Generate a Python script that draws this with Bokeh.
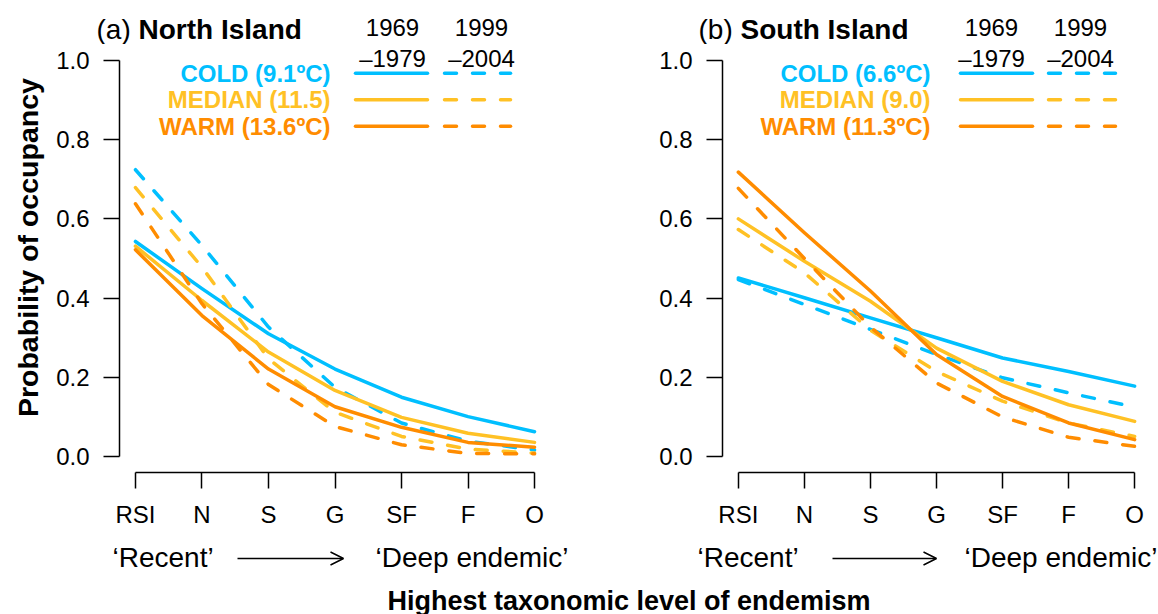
import math
from bokeh.plotting import figure
from bokeh.models import Label, Arrow, OpenHead, FixedTicker, PrintfTickFormatter, Range1d
from bokeh.layouts import column, row
from bokeh.embed import file_html
from bokeh.resources import INLINE

# ---------------- data ----------------
levels = ["RSI", "N", "S", "G", "SF", "F", "O"]
y_ticks = [0.0, 0.2, 0.4, 0.6, 0.8, 1.0]

north_cold_1969 = [0.543, 0.424, 0.310, 0.221, 0.150, 0.101, 0.063]
north_cold_1999 = [0.724, 0.533, 0.327, 0.175, 0.085, 0.039, 0.017]
north_median_1969 = [0.531, 0.394, 0.264, 0.167, 0.099, 0.059, 0.036]
north_median_1999 = [0.679, 0.478, 0.247, 0.112, 0.051, 0.019, 0.009]
north_warm_1969 = [0.522, 0.356, 0.221, 0.126, 0.074, 0.036, 0.024]
north_warm_1999 = [0.638, 0.386, 0.182, 0.076, 0.030, 0.008, 0.007]

south_cold_1969 = [0.451, 0.401, 0.350, 0.300, 0.249, 0.215, 0.178]
south_cold_1999 = [0.447, 0.384, 0.321, 0.258, 0.199, 0.161, 0.125]
south_median_1969 = [0.600, 0.493, 0.392, 0.274, 0.190, 0.131, 0.089]
south_median_1999 = [0.573, 0.464, 0.319, 0.215, 0.140, 0.085, 0.051]
south_warm_1969 = [0.718, 0.565, 0.418, 0.258, 0.152, 0.085, 0.043]
south_warm_1999 = [0.677, 0.500, 0.327, 0.186, 0.100, 0.049, 0.026]

north_legend = ["COLD (9.1\u00baC)", "MEDIAN (11.5)", "WARM (13.6\u00baC)"]
south_legend = ["COLD (6.6\u00baC)", "MEDIAN (9.0)", "WARM (11.3\u00baC)"]
period_top = ["1969", "1999"]
period_bottom = ["\u20131979", "\u20132004"]

colors = ["#00BFFF", "#FFC125", "#FF8C00"]

# ---------------- layout constants (page pixels) ----------------
FONT = "Liberation Sans"
PAGE_W, PAGE_H = 1158, 614
TOP_H = 44            # strip holding titles / first header row
BOT_H = 79            # strip holding 'Recent' rows and the x label
LEFT_W = 45           # strip holding the y label
MID_H = PAGE_H - TOP_H - BOT_H
FRAME_TOP = TOP_H     # page y of the frame top
FRAME_H = 428
XR = (-0.24, 6.24)
YR = (-0.04, 1.04)
DASH = "12 16"
LW = 3.5


def strip(w, h):
    s = figure(width=w, height=h, x_range=Range1d(0, w), y_range=Range1d(0, h),
               min_border=0, x_axis_location=None, y_axis_location=None, title=None,
               output_backend="svg", toolbar_location=None)
    s.outline_line_color = None
    s.grid.visible = False
    s.background_fill_color = "white"
    s.border_fill_color = "white"
    return s


def txt(target, x, y, text, size="24px", style="normal", color="black",
        align="left", baseline="middle", angle=0.0):
    target.add_layout(Label(x=x, y=y, text=text, text_font=FONT, text_font_size=size,
                            text_font_style=style, text_color=color, text_align=align,
                            text_baseline=baseline, angle=angle))


def make_panel(width, page_left, frame_left, frame_w, series, legend_labels, lay):
    def X(px):
        return XR[0] + (px - frame_left) / frame_w * (XR[1] - XR[0])

    def Y(py):
        return YR[1] - (py - FRAME_TOP) / FRAME_H * (YR[1] - YR[0])

    p = figure(width=width, height=MID_H,
               x_range=Range1d(*XR), y_range=Range1d(*YR), title=None,
               output_backend="svg", toolbar_location=None,
               min_border_left=frame_left - page_left,
               min_border_right=width - (frame_left - page_left) - frame_w,
               min_border_top=0,
               min_border_bottom=MID_H - FRAME_H)
    p.outline_line_color = None
    p.grid.visible = False
    p.background_fill_color = "white"
    p.border_fill_color = "white"

    p.xaxis.ticker = FixedTicker(ticks=list(range(len(levels))))
    p.xaxis.major_label_overrides = {i: lab for i, lab in enumerate(levels)}
    p.xaxis.bounds = (0, len(levels) - 1)
    p.yaxis.ticker = FixedTicker(ticks=y_ticks)
    p.yaxis.formatter = PrintfTickFormatter(format="%.1f")
    p.yaxis.bounds = (0, 1)
    for ax in (p.xaxis[0], p.yaxis[0]):
        ax.axis_line_width = 1.5
        ax.axis_line_color = "black"
        ax.major_tick_line_width = 1.5
        ax.major_tick_line_color = "black"
        ax.major_tick_out = 16
        ax.major_tick_in = 0
        ax.minor_tick_out = 0
        ax.minor_tick_in = 0
        ax.major_label_text_font = FONT
        ax.major_label_text_font_size = "24px"
        ax.major_label_text_color = "black"
    p.xaxis.major_label_standoff = 12
    p.yaxis.major_label_standoff = 14

    xs = list(range(len(levels)))
    for col, (old, new) in zip(colors, series):
        p.line(xs, old, line_color=col, line_width=LW, line_cap="round", line_join="round")
        p.line(xs, new, line_color=col, line_width=LW, line_dash=DASH,
               line_cap="round", line_join="round")

    # second header row
    for cx, t2 in zip(lay["head_x"], period_bottom):
        txt(p, X(cx), Y(58), t2, align="center")
    # legend
    s0, s1 = lay["solid"]
    d0, d1 = lay["dashed"]
    for ry, col, lab in zip([72.7, 99.3, 125.7], colors, legend_labels):
        txt(p, X(lay["leg_text_r"]), Y(ry), lab, style="bold", color=col, align="right")
        p.segment(x0=[X(s0)], y0=[Y(ry)], x1=[X(s1)], y1=[Y(ry)], line_color=col,
                  line_width=LW, line_cap="round")
        p.segment(x0=[X(d0)], y0=[Y(ry)], x1=[X(d1)], y1=[Y(ry)], line_color=col,
                  line_width=LW, line_cap="round", line_dash=DASH)
    return p


north_series = [(north_cold_1969, north_cold_1999),
                (north_median_1969, north_median_1999),
                (north_warm_1969, north_warm_1999)]
south_series = [(south_cold_1969, south_cold_1999),
                (south_median_1969, south_median_1999),
                (south_warm_1969, south_warm_1999)]

lay_a = dict(title_x=96, head_x=[392, 481], leg_text_r=330, solid=(355, 427),
             dashed=(444, 510), recent_x=112, deep=(375, "left"), arrow=(237, 343))
lay_b = dict(title_x=698, head_x=[991, 1080], leg_text_r=930, solid=(960, 1032),
             dashed=(1048, 1115), recent_x=697, deep=(1157, "right"), arrow=(832, 936))

p1 = make_panel(555, LEFT_W, 119, 431, north_series, north_legend, lay_a)
p2 = make_panel(558, 600, 722, 428, south_series, south_legend, lay_b)

# ---- top strip: panel titles and first header row ----
top = strip(PAGE_W, TOP_H)
for lay, tag, name in ((lay_a, "(a)", "North Island"), (lay_b, "(b)", "South Island")):
    txt(top, lay["title_x"], TOP_H - 29, tag, size="28px")
    txt(top, lay["title_x"] + 42, TOP_H - 29, name, size="28px", style="bold")
    for cx, t1 in zip(lay["head_x"], period_top):
        txt(top, cx, TOP_H - 27, t1, align="center")

# ---- left strip: y label ----
left = strip(LEFT_W, MID_H)
txt(left, 27, MID_H - (277 - TOP_H), "Probability of occupancy", size="28.5px", style="bold",
    align="center", angle=math.pi / 2)

# ---- bottom strip: 'Recent' -> 'Deep endemic', x label ----
bot = strip(PAGE_W, BOT_H)
for lay in (lay_a, lay_b):
    txt(bot, lay["recent_x"], PAGE_H - 557, "\u2018Recent\u2019", size="28px")
    dx, dal = lay["deep"]
    txt(bot, dx, PAGE_H - 557, "\u2018Deep endemic\u2019", size="28px", align=dal)
    a0, a1 = lay["arrow"]
    bot.add_layout(Arrow(end=OpenHead(size=13, line_width=1.5, line_color="black"),
                         x_start=a0, y_start=PAGE_H - 558, x_end=a1, y_end=PAGE_H - 558,
                         line_width=1.5, line_color="black"))
txt(bot, 628.5, PAGE_H - 600, "Highest taxonomic level of endemism", size="27px",
    style="bold", align="center")

layout = column(top, row(left, p1, p2, spacing=0), bot, spacing=0)
open("out.html", "w").write(file_html(layout, INLINE))
